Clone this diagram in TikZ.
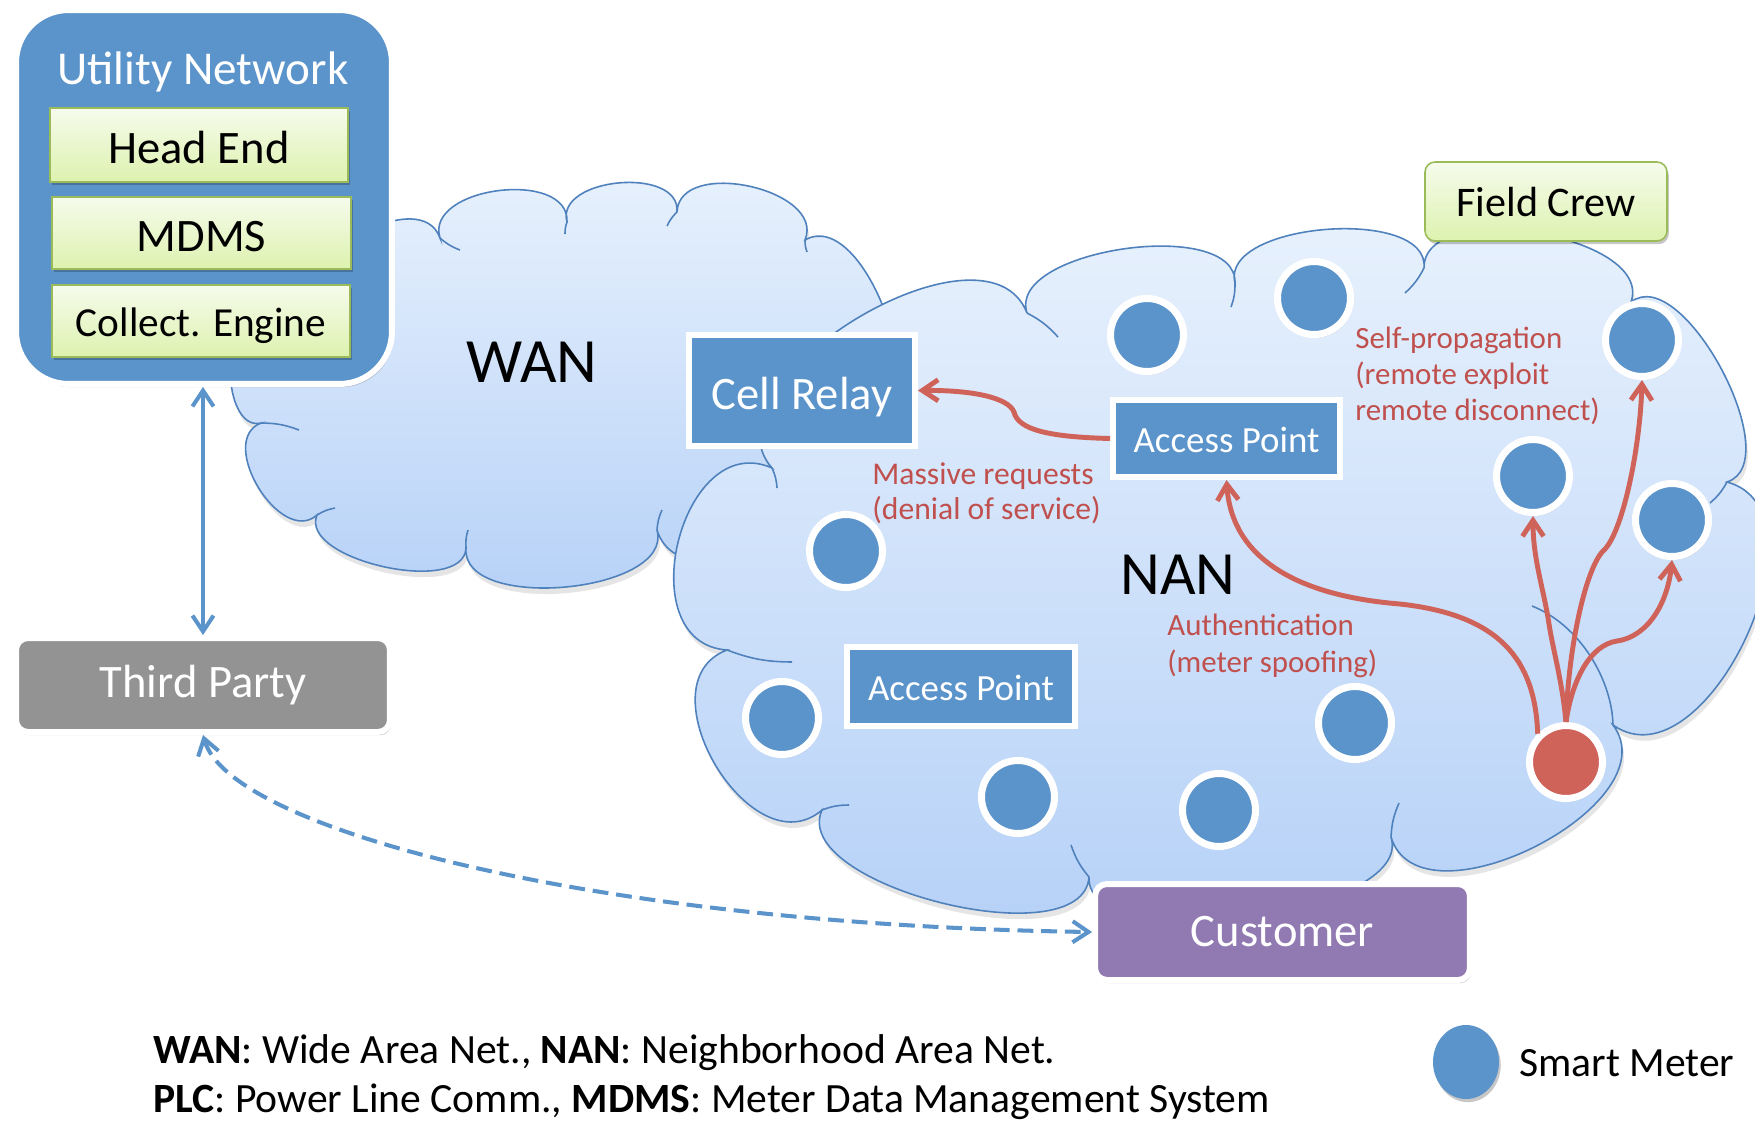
\documentclass[tikz,border=0pt]{standalone}
\usepackage{fontspec}
\setmainfont{Carlito}
\usetikzlibrary{arrows.meta,calc,shadows,shapes.geometric}
\definecolor{mblue}{HTML}{5B94CB}
\definecolor{cloudline}{HTML}{4F81BD}
\definecolor{cloudtop}{HTML}{E9F2FD}
\definecolor{cloudbot}{HTML}{B4D0F7}
\definecolor{redm}{HTML}{CF6259}
\definecolor{redtxt}{HTML}{C0504D}
\definecolor{purp}{HTML}{9179B2}
\definecolor{grayb}{HTML}{939393}
\definecolor{grline}{HTML}{9BBB59}
\definecolor{grtop}{HTML}{F6FBEC}
\definecolor{grbot}{HTML}{DDF2AF}
\newcommand{\myfs}[1]{\fontsize{#1}{#1}\selectfont}
\def\wanpath{(330,-300) to[bump=.45] (440,-238) to[bump=.42] (567,-222) to[bump=.42] (677,-212) to[bump=.42] (805,-240) to[bump=.36] (870,-420) to[bump=.4] (657,-530) to[bump=.34] (466,-548) to[bump=.32] (317,-515) to[bump=.45] (261,-423) to[bump=.4] (255,-330) to[bump=.4] (330,-300) -- cycle}
\def\nanpath{(772,-468) to[bump=.38] (1027,-313) to[bump=.32] (1235,-283) to[bump=.33] (1424,-268) to[bump=.34] (1631,-302) to[bump=.32] (1727,-482) to[bump=.42] (1613,-725) to[bump=.4] (1391,-837) to[bump=.27] (1089,-877) to[bump=.3] (822,-810) to[bump=.5] (727,-650) to[bump=.53] (772,-468) -- cycle}
\begin{document}
\begin{tikzpicture}[x=0.02cm,y=0.02cm,
  bump/.style={to path={.. controls ($(\tikztostart)!#1!100:(\tikztotarget)$) and ($(\tikztotarget)!#1!-100:(\tikztostart)$) .. (\tikztotarget)}},
  cloudsh/.style={fill=black,opacity=0.10},
  cloudbody/.style={draw=cloudline,line width=0.9pt,top color=cloudtop,bottom color=cloudbot},
  crease/.style={draw=cloudline,line width=0.9pt},
  shad/.style={drop shadow={opacity=0.22,shadow xshift=1pt,shadow yshift=-1.8pt,fill=black}},
  bluebox/.style={shad,draw=white,line width=3.4pt,fill=mblue,text=white,inner sep=0pt},
  greenbox/.style={shad,draw=grline,line width=0.9pt,top color=grtop,bottom color=grbot,inner sep=0pt,text=black},
  meter/.style={shad,circle,draw=white,line width=4pt,fill=mblue,minimum size=1.46cm,inner sep=0pt},
  redarr/.style={draw=redm,line width=2.8pt,-{Straight Barb[length=9pt,width=12pt]}},
  bluearr/.style={draw=mblue,line width=2.3pt,{Straight Barb[length=9pt,width=12pt]}-{Straight Barb[length=9pt,width=12pt]}},
  lbl/.style={text=redtxt,anchor=base west,inner sep=0pt,font=\myfs{17.6}},
  legtxt/.style={anchor=base west,inner sep=0pt,font=\myfs{23.7}},
]
\fill[white] (0,0) rectangle (1755,-1127);
\useasboundingbox (0,0) rectangle (1755,-1127);

% WAN cloud
\fill[cloudsh,shift={(2,-6)}] \wanpath;
\draw[cloudbody] \wanpath;
\draw[crease] (440,-238) to[bend right=10] (460,-250);
\draw[crease] (567,-222) to[bend right=10] (565,-234);
\draw[crease] (677,-212) to[bend right=10] (667,-226);
\draw[crease] (805,-240) to[bend right=10] (807,-252);
\draw[crease] (657,-530) to[bend left=10] (662,-510);
\draw[crease] (466,-548) to[bend left=10] (468,-530);
\draw[crease] (317,-515) to[bend left=10] (335,-508);
\draw[crease] (261,-423) to[bend left=10] (299,-430);

% NAN cloud
\fill[cloudsh,shift={(2,-6)}] \nanpath;
\draw[cloudbody] \nanpath;
\draw[crease] (772,-468) to[bend left=10] (777,-488);
\draw[crease] (1027,-313) to[bend left=10] (1058,-337);
\draw[crease] (1235,-283) to[bend left=10] (1231,-307);
\draw[crease] (1424,-268) to[bend left=10] (1405,-293);
\draw[crease] (1727,-482) to[bend left=10] (1710,-503);
\draw[crease] (1613,-725) .. controls (1612,-680) and (1580,-625) .. (1532,-606);
\draw[crease] (1391,-837) to[bend left=10] (1399,-803);
\draw[crease] (1089,-877) to[bend left=10] (1071,-845);
\draw[crease] (822,-810) to[bend left=10] (849,-805);
\draw[crease] (727,-650) to[bend right=10] (792,-662);

% Utility network
\node[bluebox,rounded corners=1.05cm,minimum width=7.52cm,minimum height=7.48cm] (ut) at (204,-197) {};
\node[anchor=base,text=white,font=\myfs{26.8},inner sep=0pt] (utl) at (203,-84) {Utility Network};
\node[greenbox,minimum width=5.96cm,minimum height=1.48cm,font=\myfs{26.5},text height=20.5pt,text depth=0pt] (he) at (199,-145) {Head End};
\node[greenbox,minimum width=5.98cm,minimum height=1.44cm,font=\myfs{26.5},text height=21.6pt,text depth=0pt] (md) at (201.5,-233) {MDMS};
\node[greenbox,minimum width=5.96cm,minimum height=1.44cm,font=\myfs{23.5},text height=17.5pt,text depth=0pt] (ce) at (201,-321) {Collect. Engine};

% Third party
\node[bluebox,fill=grayb,rounded corners=0.24cm,minimum width=7.48cm,minimum height=1.88cm,font=\myfs{26.5},text height=14pt,text depth=0pt] (tp) at (203,-685) {Third Party};

% Boxes in clouds
\node[bluebox,minimum width=4.52cm,minimum height=2.22cm,font=\myfs{26.5},text height=22pt,text depth=0pt] (cr) at (802,-390.5) {Cell Relay};
\node[bluebox,minimum width=4.54cm,minimum height=1.54cm,font=\myfs{21},text height=16pt,text depth=0pt] (ap1) at (1226.5,-438.5) {Access Point};
\node[bluebox,minimum width=4.56cm,minimum height=1.58cm,font=\myfs{21},text height=16pt,text depth=0pt] (ap2) at (961,-686.5) {Access Point};
\node[greenbox,rounded corners=0.2cm,minimum width=4.84cm,minimum height=1.58cm,font=\myfs{24},text height=17pt,text depth=0pt] (fc) at (1546,-201.5) {Field Crew};
\node[bluebox,fill=purp,rounded corners=0.24cm,minimum width=7.5cm,minimum height=1.92cm,font=\myfs{26.5},text height=16pt,text depth=0pt] (cust) at (1282.5,-932) {Customer};

% Cloud labels
\node[anchor=base,font=\myfs{35.9},inner sep=0pt] (wan) at (532,-382) {WAN};
\node[anchor=base,font=\myfs{35},inner sep=0pt] (nan) at (1178,-594) {NAN};

% Smart meters
\node[meter] (m1) at (1147,-335) {};
\node[meter] (m2) at (1314,-298) {};
\node[meter] (m3) at (1642,-340) {};
\node[meter] (m4) at (1533,-476) {};
\node[meter] (m5) at (1672,-520) {};
\node[meter] (m6) at (846,-551) {};
\node[meter] (m7) at (782,-718) {};
\node[meter] (m8) at (1018,-797) {};
\node[meter] (m9) at (1219,-810) {};
\node[meter] (m10) at (1355,-723) {};
\node[meter,fill=redm] (red) at (1566,-762) {};

% Red labels
\node[lbl,font=\myfs{18}] (mr1) at (872,-484) {Massive requests};
\node[lbl,font=\myfs{18}] (mr2) at (872,-519) {(denial of service)};
\node[lbl] (sp1) at (1355,-348) {Self-propagation};
\node[lbl] (sp2) at (1355,-384) {(remote exploit};
\node[lbl] (sp3) at (1355,-420) {remote disconnect)};
\node[lbl] (au1) at (1167,-635) {Authentication};
\node[lbl] (au2) at (1167,-672) {(meter spoofing)};

% Blue connectors
\draw[bluearr] (tp.north |- ut.south) -- (tp.north);
\draw[bluearr,dash pattern=on 9pt off 4.5pt] (tp.south) .. controls (230,-830) and (600,-925) .. (cust.west);

% Red attack arrows
\draw[redarr] (ap1.west) .. controls (1050,-437) and (1018,-430) .. (1014,-412) .. controls (1008,-397) and (970,-390) .. (cr.east);
\draw[redarr] (red.135) .. controls (1535,-660) and (1500,-615) .. (1400,-604) .. controls (1300,-596) and (1232,-560) .. (ap1.south);
\draw[redarr] (red.north) .. controls (1562,-680) and (1553,-650) .. (1549,-624) .. controls (1544,-590) and (1533,-560) .. (m4.south);
\draw[redarr] (red.north) .. controls (1568,-650) and (1585,-570) .. (1603,-551) .. controls (1622,-535) and (1640,-450) .. (m3.south);
\draw[redarr] (red.north) .. controls (1572,-680) and (1590,-645) .. (1617,-641) .. controls (1650,-636) and (1668,-600) .. (m5.south);

% Legend
\node[legtxt] (leg1) at (153,-1063) {\textbf{WAN}: Wide Area Net., \textbf{NAN}: Neighborhood Area Net.};
\node[legtxt] (leg2) at (153,-1112) {\textbf{PLC}: Power Line Comm., \textbf{MDMS}: Meter Data Management System};
\node[shad,ellipse,fill=mblue,minimum width=1.32cm,minimum height=1.48cm,inner sep=0pt] (legm) at (1466,-1062) {};
\node[legtxt] (legt) at (1519,-1076) {Smart Meter};
\end{tikzpicture}
\end{document}
